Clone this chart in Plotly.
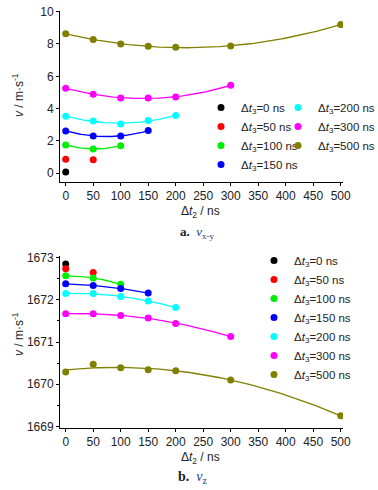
import numpy as np
import plotly.graph_objects as go

dt2 = [0, 50, 100, 150, 200, 300, 500]
dt3_labels = ["0", "50", "100", "150", "200", "300", "500"]
colors = ["#000000", "#ff0000", "#00ee00", "#0000ff", "#00ffff", "#ff00ff", "#808000"]

# v_x-y (m/s) for each dt3 series, values at dt2 = 0, 50, ... (only dt2 <= dt3)
vxy_0 = [0.08]
vxy_50 = [0.87, 0.83]
vxy_100 = [1.75, 1.50, 1.71]
vxy_150 = [2.62, 2.31, 2.31, 2.64]
vxy_200 = [3.53, 3.24, 3.05, 3.26, 3.57]
vxy_300 = [5.26, 4.89, 4.66, 4.66, 4.72, 5.44]
vxy_500 = [8.64, 8.27, 8.00, 7.86, 7.79, 7.88, 9.20]

# v_z (m/s)
vz_0 = [1672.85]
vz_50 = [1672.74, 1672.65]
vz_100 = [1672.57, 1672.52, 1672.37]
vz_150 = [1672.38, 1672.34, 1672.27, 1672.16]
vz_200 = [1672.15, 1672.15, 1672.08, 1671.97, 1671.82]
vz_300 = [1671.67, 1671.67, 1671.63, 1671.57, 1671.44, 1671.13]
vz_500 = [1670.29, 1670.47, 1670.39, 1670.34, 1670.32, 1670.10, 1669.25]

vxy = [vxy_0, vxy_50, vxy_100, vxy_150, vxy_200, vxy_300, vxy_500]
vz = [vz_0, vz_50, vz_100, vz_150, vz_200, vz_300, vz_500]

FONT = "Liberation Sans, Arial, sans-serif"
W, H = 378, 490
fig = go.Figure()

def px_x(p):
    return p / W

def px_y(p):
    return 1 - p / H

def add_series(data, xa, ya, legends):
    for i, ys in enumerate(data):
        xs = dt2[:len(ys)]
        if len(ys) >= 3:
            coef = np.polyfit(xs, ys, 2)
            xf = np.linspace(xs[0], xs[-1], 80)
            fig.add_trace(go.Scatter(x=xf, y=np.polyval(coef, xf), mode="lines",
                                     line=dict(color=colors[i], width=1.3),
                                     xaxis=xa, yaxis=ya, showlegend=False,
                                     hoverinfo="skip"))
        fig.add_trace(go.Scatter(x=xs, y=ys, mode="markers",
                                 marker=dict(color=colors[i], size=7),
                                 name="Δ<i>t</i><sub>3</sub>=" + dt3_labels[i] + " ns",
                                 xaxis=xa, yaxis=ya, legend=legends[i]))

add_series(vxy, "x", "y", ["legend"] * 4 + ["legend2"] * 3)
add_series(vz, "x2", "y2", ["legend3"] * 7)

axis_common = dict(showline=True, linecolor="black", linewidth=1, ticks="outside",
                   ticklen=3, tickcolor="black", showgrid=False, zeroline=False,
                   automargin=False, tickfont=dict(family=FONT, size=12, color="#222"))

leg_common = dict(xanchor="left", yanchor="top", bgcolor="rgba(0,0,0,0)",
                  font=dict(family=FONT, size=11.5, color="#222"),
                  itemwidth=30, tracegroupgap=0)

fig.update_layout(
    template="none",
    width=W, height=H, margin=dict(l=0, r=0, t=0, b=0, autoexpand=False),
    plot_bgcolor="white", paper_bgcolor="white",
    font=dict(family=FONT, size=12, color="#222"),
    xaxis=dict(domain=[px_x(60), px_x(343)], range=[-10.4, 504.2], tickvals=list(range(0, 501, 50)),
               anchor="y", **axis_common),
    yaxis=dict(domain=[px_y(182), px_y(11)], range=[-0.54, 10.04], tickvals=[0, 2, 4, 6, 8, 10],
               anchor="x", **axis_common),
    xaxis2=dict(domain=[px_x(60), px_x(343)], range=[-10.4, 504.2], tickvals=list(range(0, 501, 50)),
                anchor="y2", **axis_common),
    yaxis2=dict(domain=[px_y(428), px_y(256)], range=[1668.96, 1673.04],
                tickvals=[1669, 1670, 1671, 1672, 1673],
                anchor="x2", minor=dict(tickvals=[1669.5, 1670.5, 1671.5, 1672.5], ticks="outside",
                                        ticklen=2, tickcolor="black"),
                **axis_common),
    legend=dict(x=(220 - 19) / W, y=1 - (108 - 15) / H, **leg_common),
    legend2=dict(x=(297 - 19) / W, y=1 - (108 - 15) / H, **leg_common),
    legend3=dict(x=(273 - 19) / W, y=1 - (261 - 15) / H, **leg_common),
)

ytitle = "<i>v</i> / m·s<sup>-1</sup>"
xtitle = "Δ<i>t</i><sub>2</sub> / ns"
ann = [
    dict(text=ytitle, x=px_x(18), y=px_y(95), textangle=-90),
    dict(text=ytitle, x=px_x(18), y=px_y(334), textangle=-90),
    dict(text=xtitle, x=px_x(200), y=px_y(212)),
    dict(text=xtitle, x=px_x(200), y=px_y(458)),
    dict(text="<b>a.</b>  <span style='color:#1a3a8a'><i>v</i><sub>x-y</sub></span>",
         x=px_x(197), y=px_y(233), font=dict(family="Liberation Serif, serif", size=13)),
    dict(text="<b>b.</b>  <span style='color:#1a3a8a'><i>v</i><sub>z</sub></span>",
         x=px_x(193), y=px_y(477), font=dict(family="Liberation Serif, serif", size=14)),
]
for a in ann:
    a.setdefault("font", dict(family=FONT, size=12, color="#222"))
    fig.add_annotation(xref="paper", yref="paper", showarrow=False, xanchor="center",
                       yanchor="middle", **a)

fig.write_html("out.html", config={"displayModeBar": False},
               post_script="document.body.style.margin='0';document.body.style.overflow='hidden';")
